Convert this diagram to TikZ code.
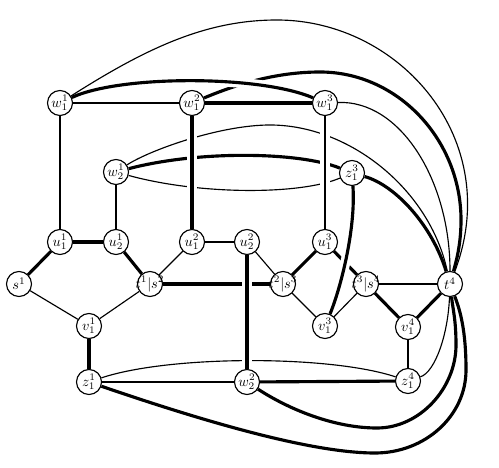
\documentclass[tikz,border=0pt]{standalone}
\pgfdeclarelayer{bg}
\pgfsetlayers{bg,main}
\newcommand\lbl[1]{\makebox[0pt]{$#1$}}
\begin{document}
\begin{tikzpicture}[x=0.7pt,y=-0.7pt,
  vtx/.style={circle,draw,line width=0.8pt,fill=white,minimum size=17.5pt,inner sep=0pt},
  ln/.style={line width=0.8pt},
  tk/.style={line width=2.2pt},
  ov/.style={preaction={draw,white,line width=7pt}}]
\useasboundingbox (0,0) rectangle (499,468);
% nodes
\node[vtx] (w11) at (60,103) {\lbl{w_1^1}};
\node[vtx] (w12) at (192,103) {\lbl{w_1^2}};
\node[vtx] (w13) at (325,103) {\lbl{w_1^3}};
\node[vtx] (w21) at (116,172) {\lbl{w_2^1}};
\node[vtx] (z13) at (352,173) {\lbl{z_1^3}};
\node[vtx] (u11) at (60,242) {\lbl{u_1^1}};
\node[vtx] (u21) at (116,242) {\lbl{u_2^1}};
\node[vtx] (u12) at (192,242) {\lbl{u_1^2}};
\node[vtx] (u22) at (247,242) {\lbl{u_2^2}};
\node[vtx] (u13) at (325,242) {\lbl{u_1^3}};
\node[vtx] (s1) at (19,284) {\lbl{s^1}};
\node[vtx] (ts12) at (150,284) {\lbl{t^1|s^2}};
\node[vtx] (ts23) at (283,284) {\lbl{t^2|s^3}};
\node[vtx] (ts34) at (366,284) {\lbl{t^3|s^4}};
\node[vtx] (t4) at (450,284) {\lbl{t^4}};
\node[vtx] (v11) at (89,326) {\lbl{v_1^1}};
\node[vtx] (v13) at (325,326) {\lbl{v_1^3}};
\node[vtx] (v14) at (408,327) {\lbl{v_1^4}};
\node[vtx] (z11) at (89,382) {\lbl{z_1^1}};
\node[vtx] (w22) at (247,382) {\lbl{w_2^2}};
\node[vtx] (z14) at (408,381) {\lbl{z_1^4}};
\begin{pgfonlayer}{bg}
% edges that are crossed by others
\draw[tk] (w12) .. controls (235,85) and (275,72) .. (320,72) .. controls (398,72) and (461,140) .. (461,220) .. controls (461,245) and (456,262) .. (t4);
\draw[ln] (w21) .. controls (150,150) and (220,125) .. (270,125) .. controls (350,125) and (430,190) .. (t4);
\draw[tk] (w21) .. controls (200,150) and (300,152) .. (z13);
\draw[ln] (w21) .. controls (200,195) and (300,195) .. (z13);
\draw[tk] (ts12) -- (ts23);
\draw[tk] (u13) -- (ts34);
\draw[ln] (z11) .. controls (170,355) and (330,355) .. (z14);
% crossing edges
\draw[tk,ov] (w12) -- (u12);
\draw[ln,ov] (w13) -- (u13);
\draw[tk,ov] (u22) -- (w22);
\draw[tk,ov] (z13) .. controls (356,230) and (340,290) .. (v13);
\draw[tk,ov] (w11) .. controls (120,75) and (260,75) .. (w13);
% thin edges
\draw[ln] (w11) -- (w12);
\draw[ln] (w11) -- (u11);
\draw[ln] (w21) -- (u21);
\draw[ln] (u12) -- (ts12);
\draw[ln] (u12) -- (u22);
\draw[ln] (u22) -- (ts23);
\draw[ln] (s1) -- (v11);
\draw[ln] (v11) -- (ts12);
\draw[ln] (ts23) -- (v13);
\draw[ln] (v13) -- (ts34);
\draw[ln] (ts34) -- (t4);
\draw[ln] (v14) -- (z14);
\draw[ln] (z11) -- (w22);
\draw[ln] (z14) .. controls (435,372) and (448,335) .. (t4);
\draw[ln] (w13) .. controls (400,100) and (450,180) .. (t4);
\draw[ln] (w11) .. controls (148,47) and (207,20) .. (277,20) .. controls (400,20) and (505,140) .. (t4);
% thick edges
\draw[tk] (w12) -- (w13);
\draw[tk] (u11) -- (u21);
\draw[tk] (u11) -- (s1);
\draw[tk] (u21) -- (ts12);
\draw[tk] (ts23) -- (u13);
\draw[tk] (ts34) -- (v14);
\draw[tk] (v14) -- (t4);
\draw[tk] (v11) -- (z11);
\draw[tk] (w22) -- (z14);
\draw[tk] (z13) .. controls (395,185) and (432,225) .. (t4);
\draw[tk] (w22) .. controls (290,410) and (335,428) .. (377,428) .. controls (420,428) and (456,388) .. (456,345) .. controls (456,320) and (453,310) .. (t4);
\draw[tk] (z11) .. controls (200,420) and (310,453) .. (375,453) .. controls (425,453) and (466,416) .. (466,370) .. controls (466,330) and (460,310) .. (t4);
\end{pgfonlayer}
\end{tikzpicture}
\end{document}
